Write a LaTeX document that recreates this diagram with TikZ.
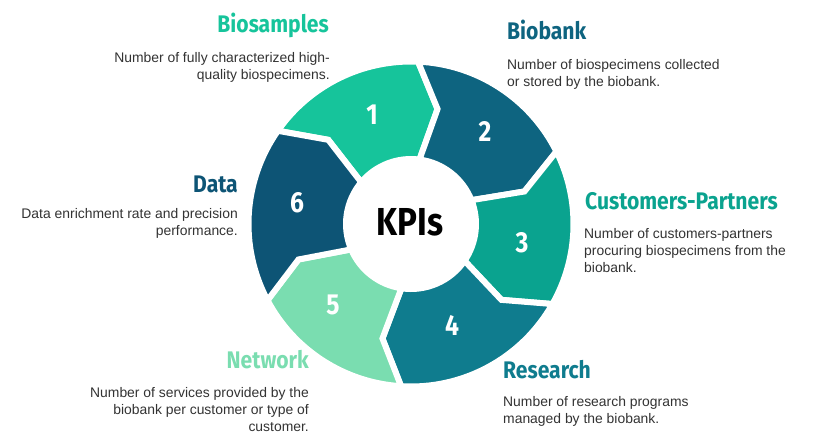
\documentclass[tikz,border=0pt]{standalone}
\usepackage{fontspec}
\setmainfont{Liberation Sans}
\newfontfamily\headfont[FakeStretch=0.88]{Fira Sans}
\newfontfamily\kpifont[FakeStretch=0.85]{Fira Sans}
\definecolor{cone}{HTML}{16C49B}
\definecolor{ctwo}{HTML}{0E6480}
\definecolor{cthree}{HTML}{0AA38F}
\definecolor{cfour}{HTML}{0F7C8E}
\definecolor{cfive}{HTML}{7ADDB0}
\definecolor{csix}{HTML}{0D5475}
\definecolor{bodygray}{HTML}{333333}
\newcommand\Ro{162.5pt}
\newcommand\Ri{65pt}
\newcommand\Rt{118pt}
\newcommand\kpiseg[3]{%
  \filldraw[segbox, fill=#1] (#2+2.5:\Ro) arc[start angle=#2+2.5, end angle=#3+2.5, radius=\Ro]
    -- (#3-8:\Rt) -- (#3-2.5:\Ri) arc[start angle=#3-2.5, end angle=#2-2.5, radius=\Ri]
    -- (#2-8:\Rt) -- cycle;}
\begin{document}
\begin{tikzpicture}[x=1pt,y=-1pt,
  body/.style={font=\fontsize{13.9}{17}\selectfont, text=bodygray, inner sep=0pt},
  head/.style={font=\headfont\bfseries\fontsize{24}{28}\selectfont, inner sep=0pt},
  num/.style={font=\kpifont\bfseries\fontsize{29}{32}\selectfont, text=white, inner sep=0pt},
  segbox/.style={draw=white, line width=6pt, line join=miter}]
\fill[white] (0,0) rectangle (823,445);
\useasboundingbox (0,0) rectangle (823,445);
\begin{scope}[shift={(411,224)}, y=1pt]
  \kpiseg{cone}{142.5}{85}
  \kpiseg{ctwo}{85}{24}
  \kpiseg{cthree}{24}{-32}
  \kpiseg{cfour}{-32}{-96}
  \kpiseg{cfive}{-96}{-154.5}
  \kpiseg{csix}{-154.5}{-217.5}
\end{scope}
\node[num] (n1) at (372,115) {1};
\node[num] (n2) at (485,131) {2};
\node[num] (n3) at (522,243) {3};
\node[num] (n4) at (452,325) {4};
\node[num] (n5) at (333,305) {5};
\node[num] (n6) at (297,203) {6};
\node[font=\kpifont\bfseries\fontsize{39}{42}\selectfont, inner sep=0pt] (kpi) at (410,222) {KPIs};
% titles
\node[head, text=cone, anchor=base east] (t1) at (329,32) {Biosamples};
\node[head, text=ctwo, anchor=base west] (t2) at (507,39) {Biobank};
\node[head, text=cthree, anchor=base west] (t3) at (585,209) {Customers-Partners};
\node[head, text=cfour, anchor=base west] (t4) at (503,378) {Research};
\node[head, text=cfive, anchor=base east] (t5) at (309,368) {Network};
\node[head, text=csix, anchor=base east] (t6) at (238,192) {Data};
% descriptions (anchor at baseline of last line)
\node[body, align=right, anchor=base east] (d1) at (330,79) {Number of fully characterized high-\\quality biospecimens.};
\node[body, align=left, anchor=base west] (d2) at (507,86) {Number of biospecimens collected\\or stored by the biobank.};
\node[body, align=left, anchor=base west] (d3) at (584,272) {Number of customers-partners\\procuring biospecimens from the\\biobank.};
\node[body, align=left, anchor=base west] (d4) at (503,423) {Number of research programs\\managed by the biobank.};
\node[body, align=right, anchor=base east] (d5) at (309,431) {Number of services provided by the\\biobank per customer or type of\\customer.};
\node[body, align=right, anchor=base east] (d6) at (238,235) {Data enrichment rate and precision\\performance.};
\end{tikzpicture}
\end{document}
